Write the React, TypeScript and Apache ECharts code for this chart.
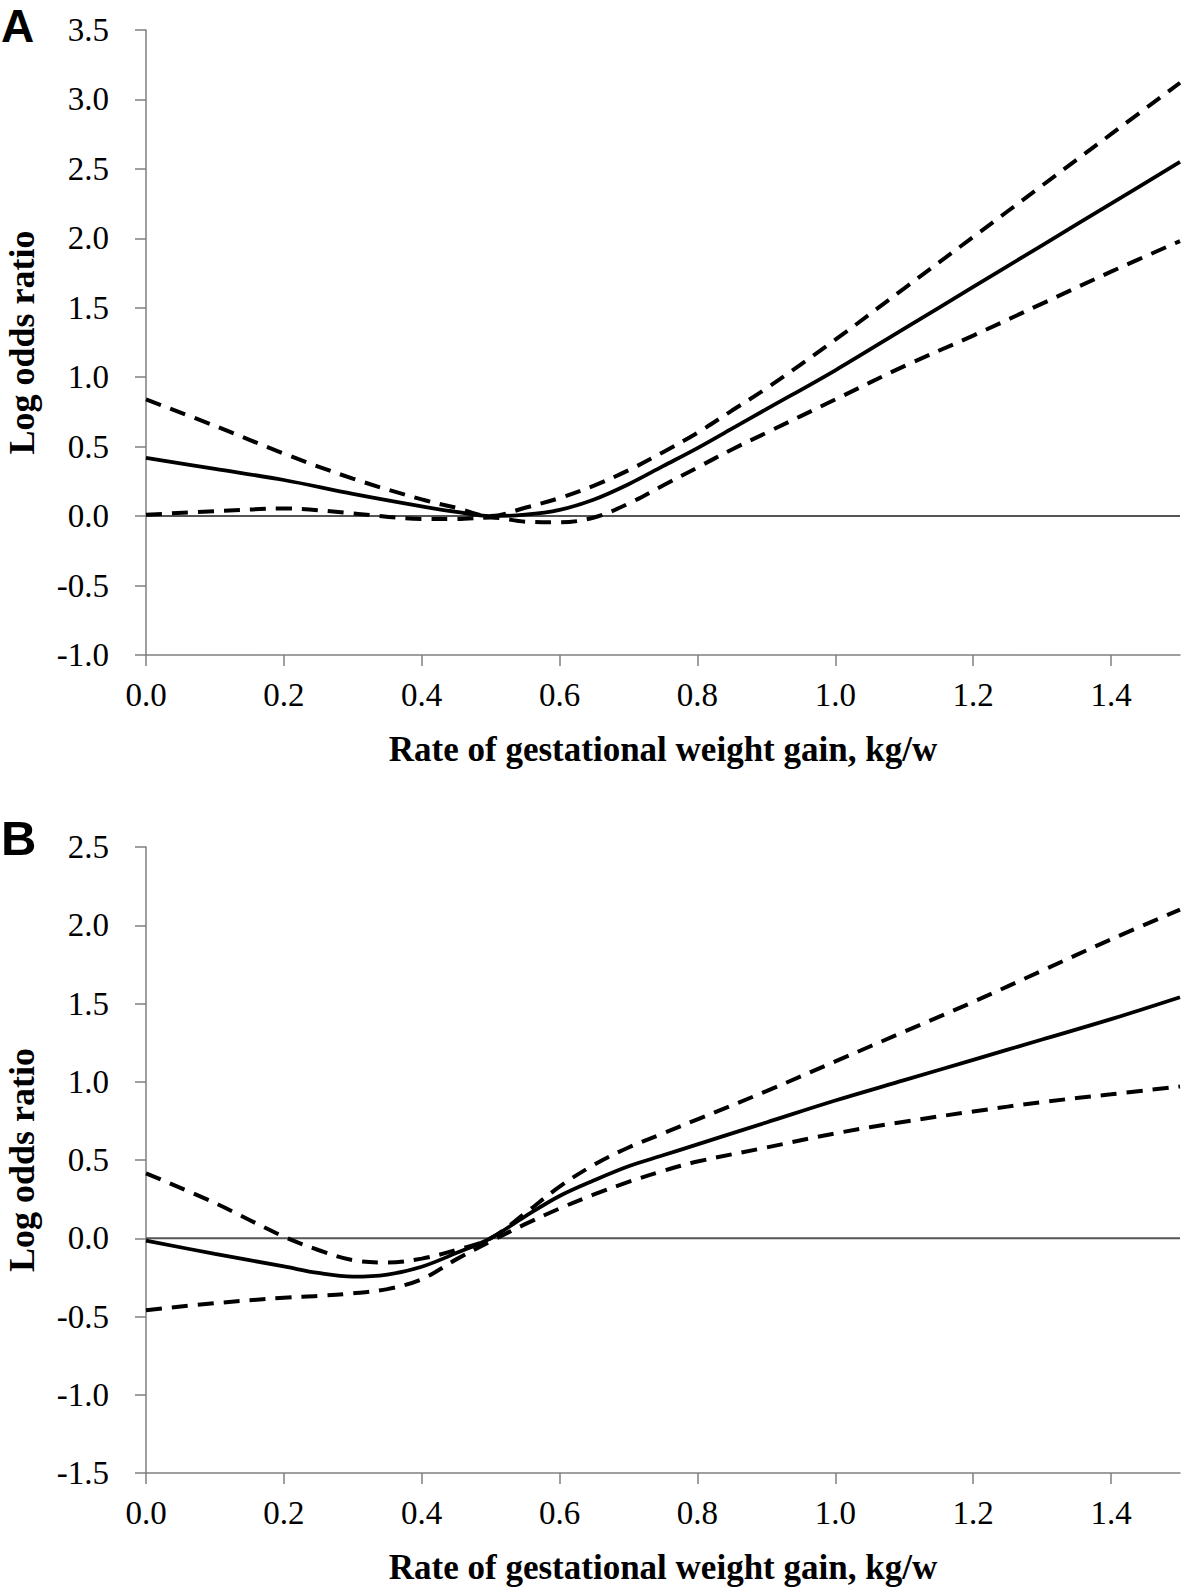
import React, { useEffect, useRef } from "react";
import * as echarts from "echarts";

// Panel A data
const xA = [0, 0.1, 0.2, 0.3, 0.4, 0.45, 0.5, 0.55, 0.6, 0.65, 0.7, 0.75, 0.8, 0.85, 0.9, 1.0, 1.1, 1.2, 1.3, 1.4, 1.5];
const solidA = [0.42, 0.34, 0.26, 0.16, 0.07, 0.03, 0.0, 0.01, 0.045, 0.12, 0.23, 0.36, 0.49, 0.63, 0.77, 1.05, 1.35, 1.65, 1.95, 2.25, 2.55];
const upperA = [0.84, 0.65, 0.45, 0.27, 0.12, 0.06, 0.0, 0.06, 0.13, 0.22, 0.33, 0.46, 0.6, 0.76, 0.92, 1.27, 1.64, 2.01, 2.38, 2.75, 3.12];
const lowerA = [0.01, 0.035, 0.055, 0.02, -0.02, -0.02, -0.01, -0.04, -0.045, -0.01, 0.09, 0.22, 0.35, 0.48, 0.6, 0.84, 1.08, 1.3, 1.53, 1.76, 1.98];

// Panel B data
const xB = [0, 0.1, 0.2, 0.25, 0.3, 0.35, 0.4, 0.45, 0.5, 0.55, 0.6, 0.65, 0.7, 0.75, 0.8, 0.9, 1.0, 1.1, 1.2, 1.3, 1.4, 1.5];
const solidB = [-0.015, -0.1, -0.18, -0.222, -0.245, -0.232, -0.182, -0.095, 0.0, 0.14, 0.27, 0.37, 0.46, 0.53, 0.6, 0.74, 0.88, 1.01, 1.14, 1.27, 1.4, 1.54];
const upperB = [0.415, 0.225, 0.01, -0.075, -0.14, -0.155, -0.13, -0.075, 0.0, 0.16, 0.33, 0.47, 0.58, 0.67, 0.76, 0.94, 1.13, 1.32, 1.51, 1.71, 1.91, 2.1];
const lowerB = [-0.46, -0.415, -0.38, -0.368, -0.352, -0.325, -0.262, -0.135, -0.02, 0.09, 0.19, 0.28, 0.36, 0.43, 0.49, 0.58, 0.67, 0.745, 0.81, 0.87, 0.92, 0.97];

const zeroX = [0, 1.5];
const zeroY = [0, 0];

const xTitle = "Rate of gestational weight gain, kg/w";
const yTitle = "Log odds ratio";
const panelLabels = ["A", "B"];

const pairs = (xs: number[], ys: number[]) => xs.map((x, i) => [x, ys[i]]);

const SERIF = "'Liberation Serif', 'Times New Roman', serif";
const AXIS_GRAY = "#7f7f7f";

export default function App() {
  const ref = useRef<HTMLDivElement>(null);
  useEffect(() => {
    if (!ref.current) return;
    const chart = echarts.init(ref.current, null, { renderer: "svg" });

    const xAxisCfg = (gridIndex: number) => ({
      type: "value",
      gridIndex,
      min: 0,
      max: 1.5,
      interval: 0.2,
      name: xTitle,
      nameLocation: "middle",
      nameGap: 77,
      nameTextStyle: { fontFamily: SERIF, fontWeight: "bold", fontSize: 35, color: "#000" },
      axisLine: { show: true, onZero: false, lineStyle: { color: AXIS_GRAY, width: 1.5 } },
      axisTick: { show: true, inside: false, length: 11, lineStyle: { color: AXIS_GRAY, width: 1.5 } },
      axisLabel: {
        showMaxLabel: false,
        margin: 23,
        fontFamily: SERIF,
        fontSize: 33,
        color: "#000",
        formatter: (v: number) => v.toFixed(1),
      },
      splitLine: { show: false },
    });

    const yAxisCfg = (gridIndex: number, min: number, max: number) => ({
      type: "value",
      gridIndex,
      min,
      max,
      interval: 0.5,
      name: yTitle,
      nameLocation: "middle",
      nameGap: 106,
      nameTextStyle: { fontFamily: SERIF, fontWeight: "bold", fontSize: 36, color: "#000" },
      axisLine: { show: true, onZero: false, lineStyle: { color: AXIS_GRAY, width: 1.5 } },
      axisTick: { show: true, inside: false, length: 11, lineStyle: { color: AXIS_GRAY, width: 1.5 } },
      axisLabel: {
        margin: 37,
        fontFamily: SERIF,
        fontSize: 33,
        color: "#000",
        formatter: (v: number) => v.toFixed(1),
      },
      splitLine: { show: false },
    });

    const solidStyle = { color: "#000", width: 3.8, type: "solid" };
    const dashStyle = { color: "#000", width: 4, type: [16, 10] };

    const mk = (name: string, xi: number, data: number[][], style: any, z = 3) => ({
      name,
      type: "line",
      xAxisIndex: xi,
      yAxisIndex: xi,
      data,
      showSymbol: false,
      symbol: "none",
      smooth: 0.35,
      lineStyle: style,
      z,
      silent: true,
    });

    const zeroStyle = { color: "#555", width: 2, type: "solid" };

    chart.setOption({
      animation: false,
      backgroundColor: "#fff",
      grid: [
        { left: 146, right: 1, top: 30, height: 625, containLabel: false, outerBoundsMode: "none" },
        { left: 146, right: 1, top: 847, height: 626, containLabel: false, outerBoundsMode: "none" },
      ],
      xAxis: [xAxisCfg(0), xAxisCfg(1)],
      yAxis: [yAxisCfg(0, -1, 3.5), yAxisCfg(1, -1.5, 2.5)],
      series: [
        { ...mk("zeroA", 0, pairs(zeroX, zeroY), zeroStyle, 2), smooth: false },
        mk("estimateA", 0, pairs(xA, solidA), solidStyle),
        mk("upperA", 0, pairs(xA, upperA), dashStyle),
        mk("lowerA", 0, pairs(xA, lowerA), dashStyle),
        { ...mk("zeroB", 1, pairs(zeroX, zeroY), zeroStyle, 2), smooth: false },
        mk("estimateB", 1, pairs(xB, solidB), solidStyle),
        mk("upperB", 1, pairs(xB, upperB), dashStyle),
        mk("lowerB", 1, pairs(xB, lowerB), dashStyle),
      ],
      graphic: [
        {
          type: "text",
          left: 1,
          top: 3,
          style: {
            text: panelLabels[0],
            fontFamily: "'Liberation Sans', Arial, sans-serif",
            fontWeight: "bold",
            fontSize: 46,
            fill: "#000",
          },
        },
        {
          type: "text",
          left: 1,
          top: 813,
          style: {
            text: panelLabels[1],
            fontFamily: "'Liberation Sans', Arial, sans-serif",
            fontWeight: "bold",
            fontSize: 49,
            fill: "#000",
          },
        },
      ],
    });
    return () => chart.dispose();
  }, []);
  return (
    <div
      ref={ref}
      style={{ position: "absolute", left: 0, top: 0, width: 1181, height: 1588, background: "#fff" }}
    />
  );
}
